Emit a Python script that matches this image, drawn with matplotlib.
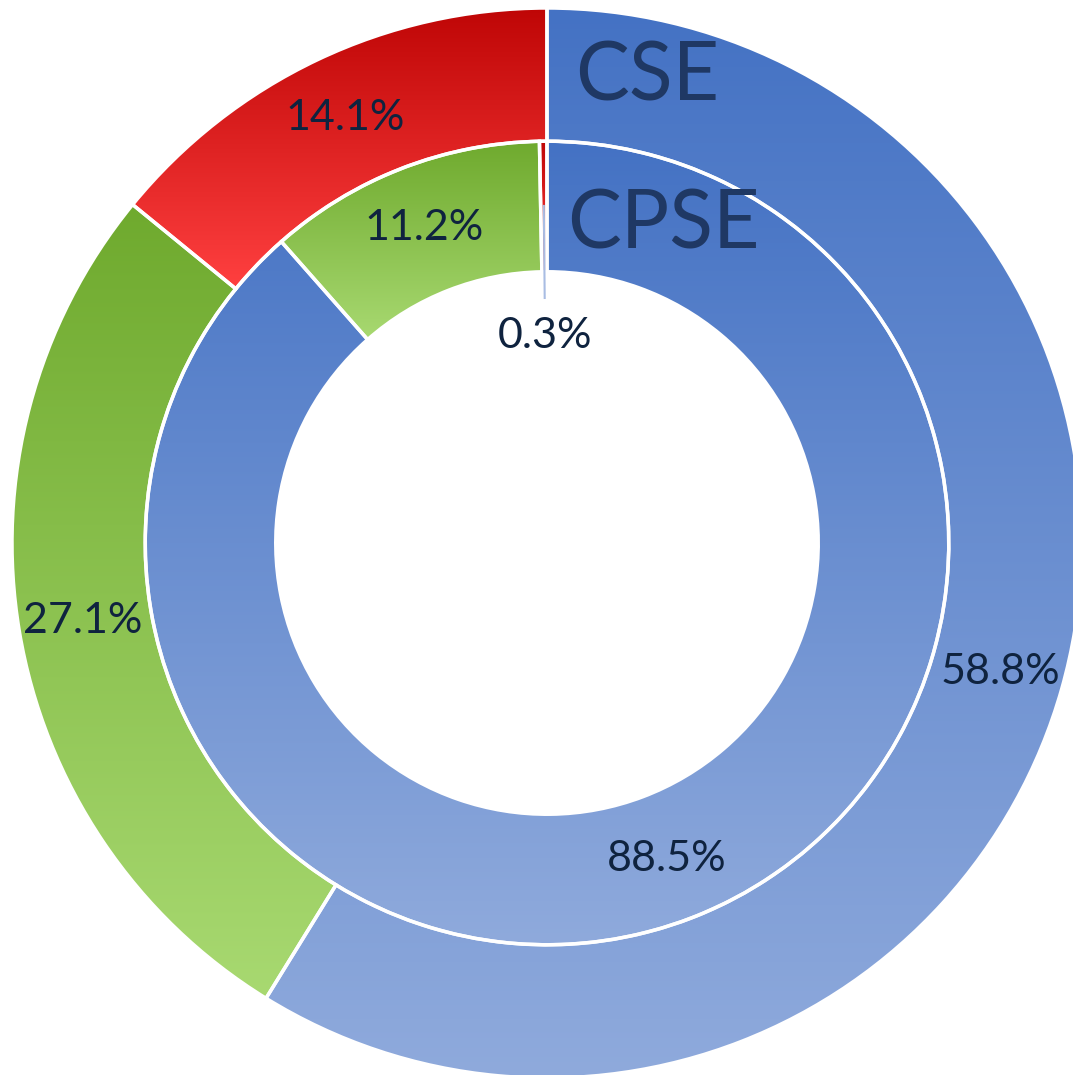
import numpy as np
import matplotlib
matplotlib.use('Agg')
import matplotlib.pyplot as plt
from matplotlib.colors import to_rgb

# data
series = ['CSE', 'CPSE']
cse = [58.8, 27.1, 14.1]
cpse = [88.5, 11.2, 0.3]
labels_cse = ['58.8%', '27.1%', '14.1%']
labels_cpse = ['88.5%', '11.2%', '0.3%']

# gradient (top, bottom) per category
grads = [('#4472C4', '#8FAADC'),
         ('#6FAA2E', '#A8D971'),
         ('#BF0606', '#FF4040')]

txt_col = '#0F233F'
name_col = '#1F3864'
plt.rcParams['font.family'] = ['Lato', 'DejaVu Sans']

fig = plt.figure(figsize=(10.73, 10.75), dpi=100)
ax = fig.add_axes([0, 0, 1, 1])

r_out = 1.0
r_mid = 0.751
r_in = 0.507

wp = dict(edgecolor='white', linewidth=2.5, facecolor='none')
w_out, _ = ax.pie(cse, radius=r_out, startangle=90, counterclock=False,
                  wedgeprops=dict(width=r_out - r_mid, **wp))
w_in, _ = ax.pie(cpse, radius=r_mid, startangle=90, counterclock=False,
                 wedgeprops=dict(width=r_mid - r_in, **wp))


def fill_gradient(w, top, bottom):
    w.set_zorder(3)
    ext = w.get_path().get_extents()
    c0 = np.array(to_rgb(bottom))
    c1 = np.array(to_rgb(top))
    t = np.linspace(0, 1, 256)[:, None, None]
    img = c0 + (c1 - c0) * t
    im = ax.imshow(img, extent=[ext.x0, ext.x1, ext.y0, ext.y1], origin='lower',
                   aspect='auto', interpolation='bilinear', zorder=2)
    im.set_clip_path(w)


for ws in (w_out, w_in):
    for w, (top, bot) in zip(ws, grads):
        fill_gradient(w, top, bot)


def mid(w):
    return np.deg2rad((w.theta1 + w.theta2) / 2)


for w, lab in zip(w_out, labels_cse):
    a = mid(w)
    r = 0.88
    ax.text(r * np.cos(a), r * np.sin(a), lab, ha='center', va='center',
            fontsize=31, color=txt_col, zorder=5)

for w, lab in zip(w_in[:2], labels_cpse[:2]):
    a = mid(w)
    r = 0.632
    ax.text(r * np.cos(a), r * np.sin(a), lab, ha='center', va='center',
            fontsize=31, color=txt_col, zorder=5)

# small slice label pulled into the hole with a leader line
a = mid(w_in[2])
ax.plot([0.458 * np.cos(a), 0.63 * np.cos(a)], [0.458, 0.63],
        color='#A9BDE3', lw=1.5, zorder=4)
ax.text(-0.004, 0.387, labels_cpse[2], ha='center', va='center',
        fontsize=31, color=txt_col, zorder=5)

# series names
ax.text(0.187, 0.871, series[0], ha='center', va='center', fontsize=58,
        color=name_col, zorder=5)
ax.text(0.217, 0.594, series[1], ha='center', va='center', fontsize=58,
        color=name_col, zorder=5)

ax.set_xlim(-547 / 535, 526 / 535)
ax.set_ylim(-532 / 535, 543 / 535)
ax.set_aspect('auto')
ax.axis('off')

fig.savefig('out.png', dpi=100)
